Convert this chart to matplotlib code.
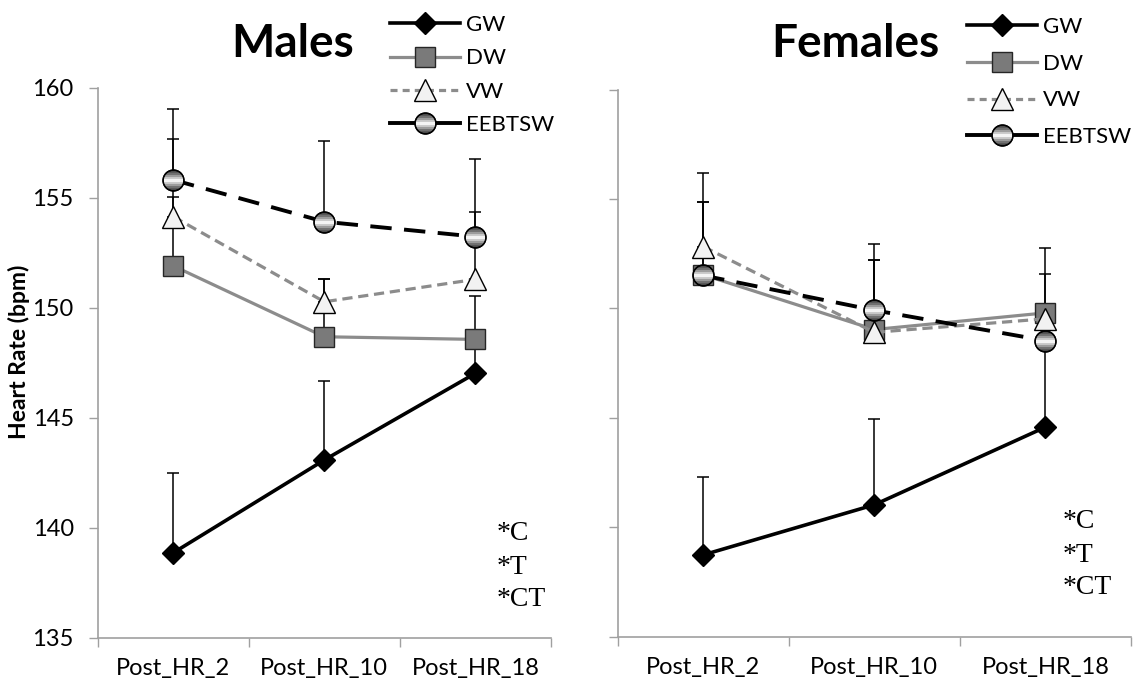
import numpy as np
import matplotlib
matplotlib.use('Agg')
import matplotlib.pyplot as plt
from matplotlib.path import Path
from matplotlib.lines import Line2D
from matplotlib.legend_handler import HandlerTuple

# ---------------- data ----------------
categories = ['Post_HR_2', 'Post_HR_10', 'Post_HR_18']
series_names = ['GW', 'DW', 'VW', 'EEBTSW']
panel_titles = ['Males', 'Females']
y_ticks = [135, 140, 145, 150, 155, 160]
stats_labels = ['*C', '*T', '*CT']

male_gw = [138.85, 143.07, 147.01]
male_dw = [151.89, 148.67, 148.55]
male_vw = [154.13, 150.26, 151.28]
male_eeb = [155.80, 153.90, 153.22]
male_gw_err = [3.61, 3.59, 1.39]
male_dw_err = [3.15, 2.63, 1.99]
male_vw_err = [3.52, 1.04, 3.07]
male_eeb_err = [3.21, 3.67, 3.52]

female_gw = [138.73, 141.02, 144.57]
female_dw = [151.53, 149.03, 149.79]
female_vw = [152.82, 148.90, 149.52]
female_eeb = [151.50, 149.91, 148.52]
female_gw_err = [3.56, 3.93, 3.83]
female_dw_err = [3.32, 3.17, 2.96]
female_vw_err = [3.38, 3.30, 2.06]
female_eeb_err = [3.35, 3.05, 1.48]

# ---------------- styling ----------------
W, H = 1142, 686
DPI = 100
FONT = 'Lato'
AXIS_COLOR = '#a0a0a0'

fig = plt.figure(figsize=(W / DPI, H / DPI), dpi=DPI)


def fx(px):
    return px / W


def fy(py):
    return 1 - py / H


def band_path(h, n=60):
    a = np.arcsin(h)
    t1 = np.linspace(-a, a, n)
    right = np.column_stack([np.cos(t1), np.sin(t1)])
    t2 = np.linspace(np.pi - a, np.pi + a, n)
    left = np.column_stack([np.cos(t2), np.sin(t2)])
    verts = np.vstack([right, left, right[:1]])
    codes = [Path.MOVETO] + [Path.LINETO] * (len(verts) - 2) + [Path.CLOSEPOLY]
    return Path(verts, codes)


BANDS = [(0.82, '#707070'), (0.58, '#9c9c9c'), (0.36, '#cacaca'), (0.16, '#f4f4f4')]
MS_CIRC = 15

styles = {
    'GW': dict(color='black', lw=2.6, ls='-', marker='D', ms=11.5, mfc='black', mec='black', mew=1),
    'DW': dict(color='#8c8c8c', lw=2.3, ls='-', marker='s', ms=15, mfc='#7a7a7a', mec='#262626', mew=1),
    'VW': dict(color='#8c8c8c', lw=2.3, ls=(0, (3.2, 1.8)), marker='^', ms=15.5, mfc='#f2f2f2', mec='black', mew=1),
    'EEBTSW': dict(color='black', lw=2.8, ls=(0, (5.5, 3.2)), marker='o', ms=MS_CIRC, mfc='#4a4a4a', mec='black', mew=1),
}


def circle_layers(x, y, z, ax=None):
    """Line2D objects forming the shaded circle marker (bands + outline)."""
    arts = []
    for i, (h, c) in enumerate(BANDS):
        arts.append(Line2D(x, y, ls='none', marker=band_path(h), ms=MS_CIRC - 1.2,
                           mfc=c, mec='none', mew=0, zorder=z + 0.1 * (i + 1)))
    arts.append(Line2D(x, y, ls='none', marker='o', ms=MS_CIRC, mfc='none',
                       mec='black', mew=1, zorder=z + 0.9))
    if ax is not None:
        for a in arts:
            ax.add_line(a)
    return arts


def draw_panel(ax, values, errors, show_ylabels):
    x = np.arange(len(categories))
    for k, name in enumerate(series_names):
        ax.errorbar(x, values[k], yerr=[np.zeros(len(x)), errors[k]], fmt='none',
                    ecolor='black', elinewidth=1.1, capsize=4.5, capthick=1.1, zorder=2)
    for k, name in enumerate(series_names):
        st = styles[name]
        z = 3 + k
        ax.plot(x, values[k], color=st['color'], lw=st['lw'], ls=st['ls'],
                marker=st['marker'], ms=st['ms'], mfc=st['mfc'], mec=st['mec'],
                mew=st['mew'], zorder=z)
        if name == 'EEBTSW':
            circle_layers(x, values[k], z, ax=ax)

    ax.set_xlim(-0.5, len(categories) - 0.5)
    ax.set_ylim(y_ticks[0], y_ticks[-1])
    ax.set_yticks(y_ticks)
    if show_ylabels:
        ax.set_yticklabels([str(t) for t in y_ticks], fontsize=17, family=FONT)
    else:
        ax.set_yticklabels([])
    ax.tick_params(axis='y', length=6.3, width=1, color=AXIS_COLOR, pad=11)
    ax.set_xticks(np.arange(len(categories) + 1) - 0.5)
    ax.set_xticklabels([])
    ax.tick_params(axis='x', which='major', length=6.5, width=1, color=AXIS_COLOR)
    ax.set_xticks(x, minor=True)
    ax.set_xticklabels(categories, minor=True, fontsize=17, family=FONT)
    ax.tick_params(axis='x', which='minor', length=0, pad=15)
    for s in ['top', 'right']:
        ax.spines[s].set_visible(False)
    for s in ['left', 'bottom']:
        ax.spines[s].set_color(AXIS_COLOR)
        ax.spines[s].set_linewidth(1.2)
    ax.patch.set_alpha(0)


# ---- axes positions (pixels) ----
axL = fig.add_axes([fx(97.7), fy(637.5), fx(551 - 97.7), (637.5 - 87.5) / H])
axR = fig.add_axes([fx(617.7), fy(636.5), fx(1131 - 617.7), (636.5 - 89.5) / H])

draw_panel(axL, [male_gw, male_dw, male_vw, male_eeb],
           [male_gw_err, male_dw_err, male_vw_err, male_eeb_err], True)
draw_panel(axR, [female_gw, female_dw, female_vw, female_eeb],
           [female_gw_err, female_dw_err, female_vw_err, female_eeb_err], False)

# titles
fig.text(fx(293), fy(44), panel_titles[0], fontsize=33, fontweight='bold', family=FONT,
         ha='center', va='center')
fig.text(fx(855), fy(44), panel_titles[1], fontsize=33, fontweight='bold', family=FONT,
         ha='center', va='center')

# y label
fig.text(fx(19), fy(352), 'Heart Rate (bpm)', fontsize=16.5, fontweight='bold', family=FONT,
         rotation=90, ha='center', va='center')

# stats annotations
for (x0, ys) in [(497, [533, 567, 600]), (1063, [521, 555, 588])]:
    for lab, yy in zip(stats_labels, ys):
        fig.text(fx(x0), fy(yy), lab, fontsize=20, family='Liberation Serif',
                 ha='left', va='center')


# legends
def legend_handles():
    hs = []
    for name in series_names[:3]:
        st = styles[name]
        hs.append(Line2D([], [], color=st['color'], lw=st['lw'],
                         ls=st['ls'] if name != 'VW' else (0, (2.2, 1.6)),
                         marker=st['marker'], ms=st['ms'], mfc=st['mfc'], mec=st['mec'], mew=st['mew']))
    st = styles['EEBTSW']
    base = Line2D([], [], color='black', lw=st['lw'], ls='-', marker='o', ms=MS_CIRC,
                  mfc=st['mfc'], mec='black', mew=1)
    layers = circle_layers([], [], 0)
    hs.append(tuple([base] + layers))
    return hs


for (x0, y0, spacing) in [(390, 15, 0.6), (967, 17, 0.75)]:
    fig.legend(legend_handles(), series_names, loc='upper left',
               bbox_to_anchor=(fx(x0), fy(y0)), bbox_transform=fig.transFigure,
               frameon=False, borderpad=0, borderaxespad=0, numpoints=1,
               handlelength=3.15, handletextpad=0.25, labelspacing=spacing,
               prop=dict(family=FONT, size=16),
               handler_map={tuple: HandlerTuple(ndivide=1, pad=0)})

fig.savefig('out.png', dpi=DPI)
